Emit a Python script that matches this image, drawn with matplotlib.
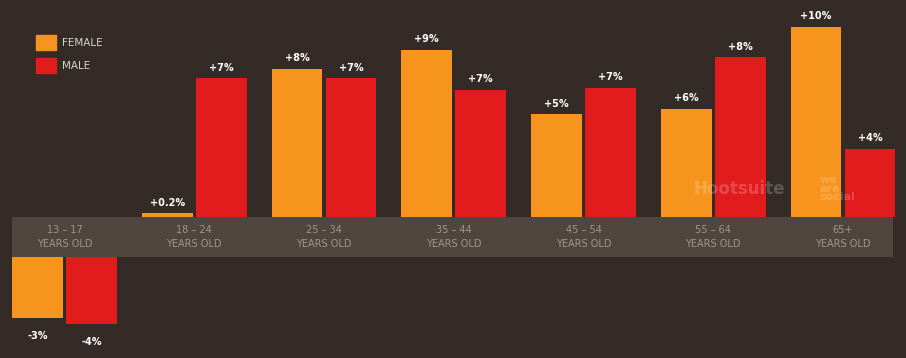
import matplotlib.pyplot as plt
import matplotlib.patches as mpatches
import numpy as np

plt.rcParams['font.family'] = ['Liberation Sans Narrow', 'DejaVu Sans']

ages = ['13 – 17', '18 – 24', '25 – 34', '35 – 44', '45 – 54', '55 – 64', '65+']
female = [-3.2, 0.2, 7.8, 8.8, 5.4, 5.7, 10.0]
male = [-3.5, 7.3, 7.3, 6.7, 6.8, 8.4, 3.6]
female_lbl = ['-3%', '+0.2%', '+8%', '+9%', '+5%', '+6%', '+10%']
male_lbl = ['-4%', '+7%', '+7%', '+7%', '+7%', '+8%', '+4%']

bg = '#342b27'
band_col = '#4f4640'
orange = '#f7941d'
red = '#e21b1d'

band_h = 40 / 19.0   # height of the category strip, in % units

fig = plt.figure(figsize=(9.06, 3.58), dpi=100, facecolor=bg)
ax = fig.add_axes([0, 0, 1, 1])
ax.set_facecolor(bg)
ax.set_xlim(-64.5 / 129.75, (906 - 64.5) / 129.75)
ax.set_ylim(-(358 - 217) / 19.0, 217 / 19.0)
ax.axis('off')

x = np.arange(len(ages))
w = 0.39
off = 0.208

# category strip
ax.add_patch(mpatches.Rectangle((-0.405, -band_h), 6.79, band_h,
                                facecolor=band_col, edgecolor='none', zorder=1))

f_bottom = [(-band_h if v < 0 else 0) for v in female]
m_bottom = [(-band_h if v < 0 else 0) for v in male]
ax.bar(x - off, female, w, bottom=f_bottom, color=orange, zorder=2)
ax.bar(x + off, male, w, bottom=m_bottom, color=red, zorder=2)

for xs, vals, bots, lbls in [(x - off, female, f_bottom, female_lbl), (x + off, male, m_bottom, male_lbl)]:
    for xi, v, b, t in zip(xs, vals, bots, lbls):
        y = v + b
        ax.text(xi, y + (0.3 if v >= 0 else -0.7), t, ha='center',
                va='bottom' if v >= 0 else 'top', color='white', fontsize=7,
                fontweight='bold', zorder=3)

for xi, a in zip(x, ages):
    ax.text(xi, -band_h * 0.33, a, ha='center', va='center', color='#9f968e', fontsize=7, zorder=3)
    ax.text(xi, -band_h * 0.68, 'YEARS OLD', ha='center', va='center', color='#9f968e', fontsize=7, zorder=3)

# legend
leg = [mpatches.Patch(color=orange, label='FEMALE'), mpatches.Patch(color=red, label='MALE')]
ax.legend(handles=leg, loc='upper left', bbox_to_anchor=(0.04, 0.902), frameon=False,
          labelcolor='#d8d2cc', fontsize=7.5, handlelength=1.85, handleheight=1.87,
          handletextpad=0.6, labelspacing=0.75, borderpad=0, borderaxespad=0)

# faint watermark
ax.text(5.2, 1.5, 'Hootsuite', color='white', alpha=0.2, fontsize=12,
        fontweight='bold', family='DejaVu Sans', ha='center', va='center', zorder=4)
ax.text(5.82, 1.5, 'we\nare\nsocial', color='white', alpha=0.2, fontsize=8,
        fontweight='bold', family='DejaVu Sans', ha='left', va='center', linespacing=0.8, zorder=4)

fig.savefig('out.png', dpi=100, facecolor=bg)
